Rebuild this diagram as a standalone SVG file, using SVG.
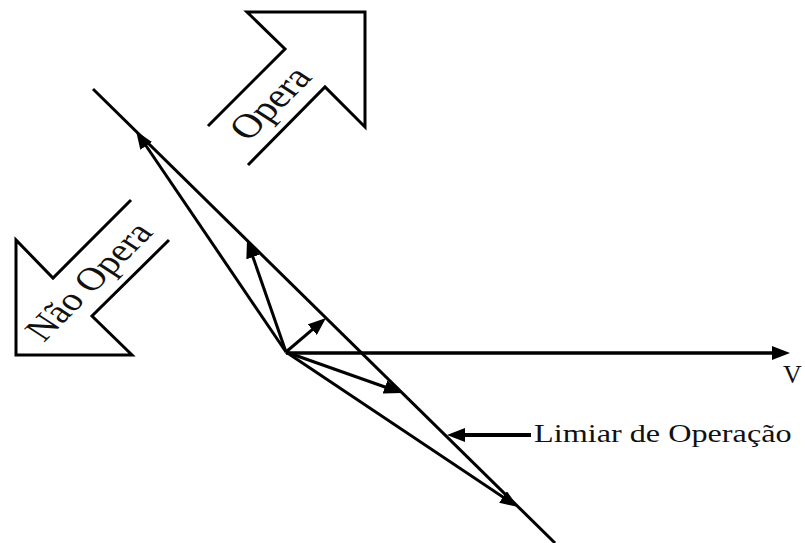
<svg xmlns="http://www.w3.org/2000/svg" width="805" height="543" viewBox="0 0 805 543">
<style>
.ln{stroke:#000;stroke-width:3;fill:none;stroke-linecap:butt}
.ol{stroke:#000;stroke-width:3;fill:none;stroke-linejoin:miter}
.tx{font-family:"Liberation Serif","Times New Roman",serif;fill:#111}
</style>
<defs>
<marker id="ah" markerUnits="userSpaceOnUse" markerWidth="18" markerHeight="14" refX="12" refY="7" orient="auto">
<path d="M0,0 L18,7 L0,14 z" fill="#000"/>
</marker>
</defs>
<rect width="805" height="543" fill="#fff"/>
<g id="opera">
<path class="ol" d="M208,126 L285,49 L247,12 L365,12 L365,127 L325,87 L248,165"/>
<text class="tx" font-size="34" text-anchor="middle" transform="translate(281,110) scale(1.24,1) rotate(-51)">Opera</text>
</g>
<g id="nao-opera">
<path class="ol" d="M131,200 L53,278 L16,240 L16,355 L132,355 L92,316 L169,240"/>
<text class="tx" font-size="32.5" text-anchor="middle" transform="translate(99,288) scale(1.24,1) rotate(-51)">Não Opera</text>
</g>
<g id="connectors">
<line class="ln" x1="93" y1="89" x2="555" y2="543"/>
<line class="ln" x1="286" y1="352" x2="139.4" y2="136" marker-end="url(#ah)"/>
<line class="ln" x1="286" y1="352" x2="249" y2="245.7" marker-end="url(#ah)"/>
<line class="ln" x1="286" y1="352" x2="321.4" y2="321.9" marker-end="url(#ah)"/>
<line class="ln" x1="286" y1="352" x2="396.3" y2="391" marker-end="url(#ah)"/>
<line class="ln" x1="286" y1="352" x2="513" y2="503.7" marker-end="url(#ah)"/>
<line class="ln" style="stroke-width:3.5" x1="286" y1="353" x2="784" y2="353" marker-end="url(#ah)"/>
<line class="ln" style="stroke-width:4" x1="531" y1="435" x2="453" y2="435" marker-end="url(#ah)"/>
</g>
<g id="labels">
<text class="tx" font-size="26" transform="translate(783,383)">V</text>
<text class="tx" font-size="26" transform="translate(534,442) scale(1.24,1)">Limiar de Operação</text>
</g>
</svg>
